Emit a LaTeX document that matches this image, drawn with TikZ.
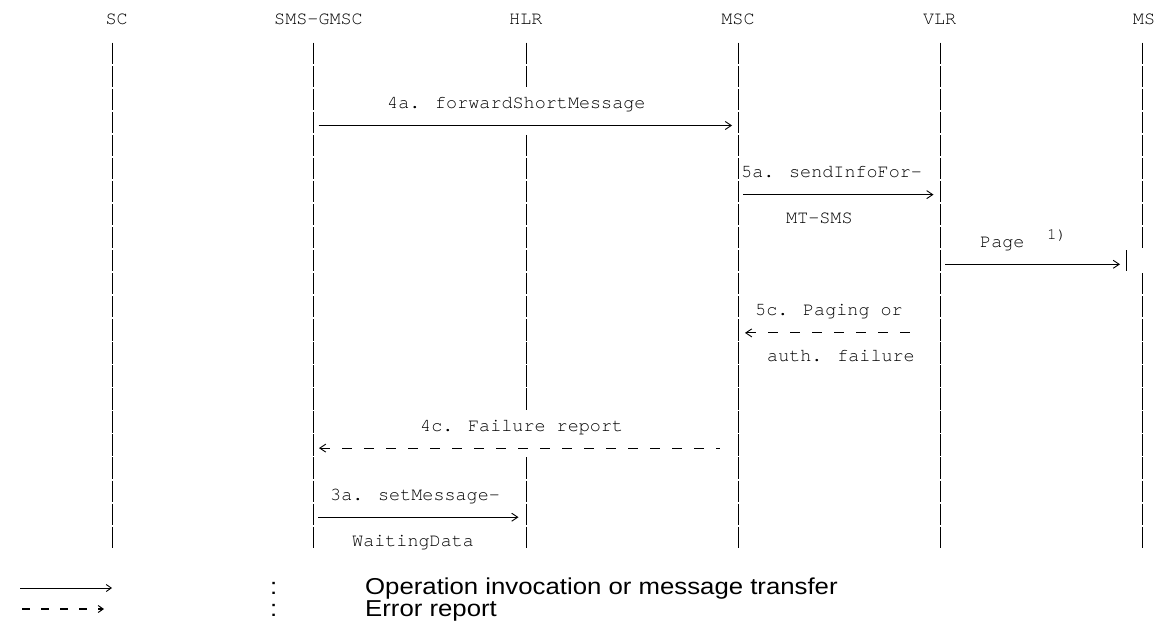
\documentclass[tikz,border=0pt]{standalone}
\usepackage{fontspec}
\setmainfont{Liberation Sans}
\newfontfamily\monofont{texgyrecursor-regular.otf}
\newfontfamily\legfont[FakeStretch=1.12]{Liberation Sans}
\usetikzlibrary{arrows.meta}
\begin{document}
\begin{tikzpicture}[x=1pt,y=-1pt,
  lifeline/.style={line width=1pt, draw=black, dash pattern=on 21.3pt off 1.74pt},
  bar/.style={line width=1pt, draw=black},
  head/.style={font=\monofont\fontsize{18.45}{20}\selectfont, anchor=base, inner sep=0pt},
  lbl/.style={font=\monofont\fontsize{18.45}{20}\selectfont, anchor=base west, inner sep=0pt},
  sup/.style={font=\monofont\fontsize{16}{17}\selectfont, anchor=base west, inner sep=0pt},
  invoke/.style={line width=0.9pt, -{Straight Barb[length=6pt,width=8pt,line width=0.9pt]}},
  errrep/.style={line width=0.9pt, dash pattern=on 10pt off 12pt, {Straight Barb[length=6pt,width=8pt,line width=0.9pt]}-},
  legtxt/.style={font=\legfont\fontsize{23}{26}\selectfont, anchor=base west, inner sep=0pt, text height=15pt, text depth=4pt},
  legsolid/.style={line width=0.9pt, -{Straight Barb[length=5pt,width=7pt,line width=0.9pt]}},
  legdash/.style={line width=1.8pt, dash pattern=on 8pt off 11pt, -{Straight Barb[length=5pt,width=7pt,line width=1pt]}}
]
\useasboundingbox (0,0) rectangle (1161,639);

% headers
\node[head] (sc)   at (116.7,25) {SC};
\node[head] (gmsc) at (318.5,25) {SMS-GMSC};
\node[head] (hlr)  at (525.8,25) {HLR};
\node[head] (msc)  at (738,25)   {MSC};
\node[head] (vlr)  at (939.7,25) {VLR};
\node[head] (ms)   at (1144,25)  {MS};

% lifeline ends
\coordinate (scT) at (112,42.75);   \coordinate (scB) at (112,547.9);
\coordinate (gmT) at (313,42.75);   \coordinate (gmB) at (313,547.9);
\coordinate (hlT) at (526,42.75);   \coordinate (hl1) at (526,87.09);
\coordinate (hl2) at (526,134.91);  \coordinate (hl3) at (526,409.65);
\coordinate (hl4) at (526,457.47);  \coordinate (hlB) at (526,547.9);
\coordinate (msT) at (738,42.75);   \coordinate (msB) at (738,547.9);
\coordinate (vlT) at (940.5,42.75); \coordinate (vlB) at (940.5,547.9);
\coordinate (moT) at (1142,42.75);  \coordinate (mo1) at (1142,248.37);
\coordinate (mo2) at (1142,273.15); \coordinate (moB) at (1142,547.9);
\coordinate (mbT) at (1126,250.11); \coordinate (mbB) at (1126,271.41);

\draw[lifeline] (scT) -- (scB);
\draw[lifeline] (gmT) -- (gmB);
\draw[lifeline] (hlT) -- (hl1);
\draw[lifeline] (hl2) -- (hl3);
\draw[lifeline] (hl4) -- (hlB);
\draw[lifeline] (msT) -- (msB);
\draw[lifeline] (vlT) -- (vlB);
\draw[lifeline] (moT) -- (mo1);
\draw[lifeline] (mo2) -- (moB);
\draw[bar] (mbT) -- (mbB);

% messages
\node[lbl] (t4a) at (387,108.5) {4a. forwardShortMessage};
\coordinate (a4s) at (318.5,125.5); \coordinate (a4e) at (732,125.5);
\draw[invoke] (a4s) -- (a4e);

\node[lbl] (t5a) at (741,177.6) {5a. sendInfoFor-};
\coordinate (a5s) at (743,194.6); \coordinate (a5e) at (933.5,194.6);
\draw[invoke] (a5s) -- (a5e);
\node[lbl] (t5b) at (786,223.7) {MT-SMS};

\node[lbl] (tpg) at (980,247.2) {Page};
\node[sup] (tp1) at (1047,239.5) {1)};
\coordinate (pgs) at (945,264.3); \coordinate (pge) at (1120,264.3);
\draw[invoke] (pgs) -- (pge);

\node[lbl] (t5c) at (755,315.8) {5c. Paging or};
\coordinate (c5t) at (745,332.9); \coordinate (c5e) at (921.7,332.9);
\draw[errrep] (c5t) -- (c5e);
\node[lbl] (t5d) at (767,361.9) {auth. failure};

\node[lbl] (t4c) at (420,431) {4c. Failure report};
\coordinate (c4t) at (319,448.1); \coordinate (c4e) at (720,448.1);
\draw[errrep] (c4t) -- (c4e);

\node[lbl] (t3a) at (330,500.1) {3a. setMessage-};
\coordinate (a3s) at (318,517.2); \coordinate (a3e) at (518.5,517.2);
\draw[invoke] (a3s) -- (a3e);
\node[lbl] (t3b) at (352,546.2) {WaitingData};

% legend
\coordinate (l1s) at (20,588); \coordinate (l1e) at (112,588);
\draw[legsolid] (l1s) -- (l1e);
\node[legtxt] (c1) at (270,594) {:};
\node[legtxt] (d1) at (365,594) {Operation invocation or message transfer};
\coordinate (l2s) at (22,609); \coordinate (l2e) at (104,609);
\draw[legdash] (l2s) -- (l2e);
\node[legtxt] (c2) at (270,616) {:};
\node[legtxt] (d2) at (365,616) {Error report};
\end{tikzpicture}
\end{document}
